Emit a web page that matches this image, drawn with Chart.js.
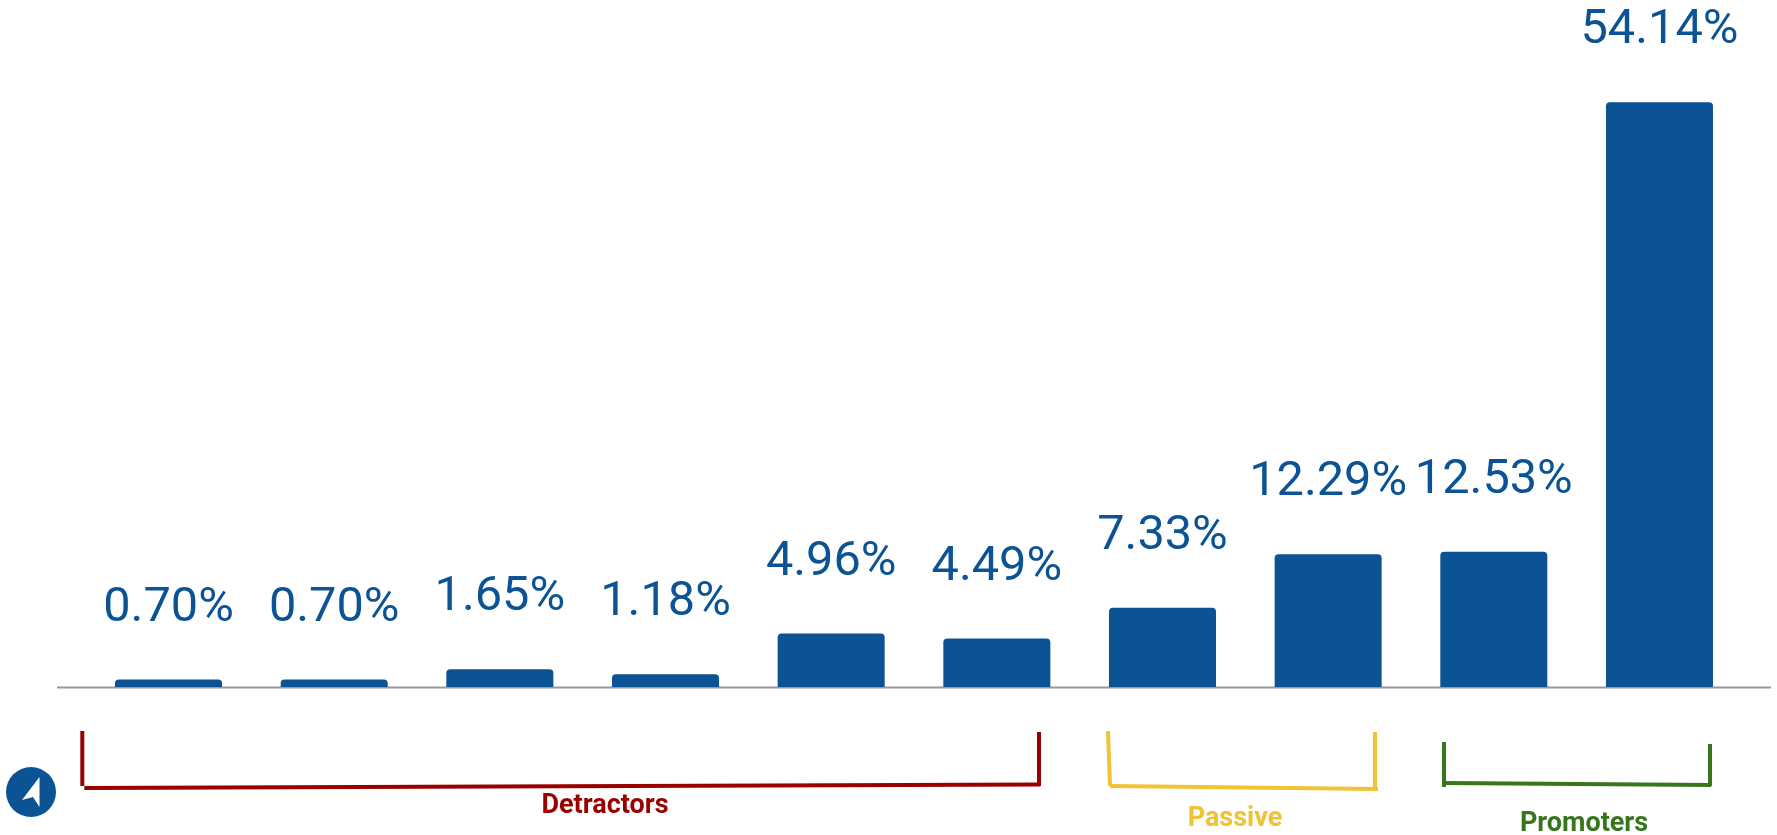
<!DOCTYPE html>
<html>
<head>
<meta charset="utf-8">
<title>NPS</title>
<script src="https://cdn.jsdelivr.net/npm/chart.js@4"></script>
<style>
body { margin: 0; background: #fff; }
canvas { display: block; }
</style>
</head>
<body>
<canvas id="nps" width="1777" height="835"></canvas>
<script>
const scores = ["1", "2", "3", "4", "5", "6", "7", "8", "9", "10"];
const shares = [0.70, 0.70, 1.65, 1.18, 4.96, 4.49, 7.33, 12.29, 12.53, 54.14];

const groupNames = ["Detractors", "Passive", "Promoters"];

const blue = "#0b5394";

// lines of the hand drawn brackets under the axis, they lean a little
function drawBrackets(ctx) {
    const brackets = [
        { color: "#990000", name: groupNames[0], nameX: 605, nameY: 806, lines: [
            [82.3, 731, 82.3, 786], [84.3, 788, 1040, 784.5], [1039, 732, 1039, 786]] },
        { color: "#f1c232", name: groupNames[1], nameX: 1235, nameY: 819, lines: [
            [1108, 731, 1110, 786], [1110, 786, 1378, 789], [1375, 732, 1375, 787]] },
        { color: "#38761d", name: groupNames[2], nameX: 1584, nameY: 824, lines: [
            [1444, 742, 1444, 787], [1445, 783, 1711, 785], [1710, 744, 1710, 786]] }
    ];
    brackets.forEach(b => {
        ctx.strokeStyle = b.color;
        ctx.lineWidth = 4;
        b.lines.forEach(l => {
            ctx.beginPath();
            ctx.moveTo(l[0], l[1]);
            ctx.lineTo(l[2], l[3]);
            ctx.stroke();
        });
        ctx.fillStyle = b.color;
        ctx.font = "bold 27px Roboto";
        ctx.textAlign = "center";
        ctx.textBaseline = "middle";
        ctx.fillText(b.name, b.nameX, b.nameY);
    });
}

function drawIcon(ctx) {
    ctx.fillStyle = blue;
    ctx.beginPath();
    ctx.arc(31, 792, 25, 0, 2 * Math.PI);
    ctx.fill();
    ctx.fillStyle = "#fff";
    ctx.beginPath();
    ctx.moveTo(39.5, 777);
    ctx.lineTo(22, 800);
    ctx.lineTo(33, 797);
    ctx.lineTo(39.5, 807);
    ctx.closePath();
    ctx.fill();
}

const axisLine = {
    id: "axisLine",
    beforeDatasetsDraw(chart) {
        const ctx = chart.ctx;
        const y = chart.scales.y.getPixelForValue(0);
        ctx.save();
        ctx.strokeStyle = "#999999";
        ctx.lineWidth = 2;
        ctx.beginPath();
        ctx.moveTo(57, y + 0.5);
        ctx.lineTo(1771, y + 0.5);
        ctx.stroke();
        ctx.restore();
    }
};

const extras = {
    id: "extras",
    afterDatasetsDraw(chart) {
        const ctx = chart.ctx;
        ctx.save();
        // percentage above each bar
        ctx.fillStyle = blue;
        ctx.font = "48.7px Roboto";
        ctx.textAlign = "center";
        ctx.textBaseline = "middle";
        chart.getDatasetMeta(0).data.forEach((bar, i) => {
            ctx.fillText(shares[i].toFixed(2) + "%", bar.x, bar.y - 71);
        });
        drawBrackets(ctx);
        drawIcon(ctx);
        ctx.restore();
    }
};

new Chart(document.getElementById("nps"), {
    type: 'bar',
    data: {
        labels: scores,
        datasets: [{
            data: shares,
            backgroundColor: blue,
            borderRadius: 4,
            categoryPercentage: 1,
            barPercentage: 0.646
        }]
    },
    options: {
        responsive: false,
        animation: false,
        layout: {
            padding: { left: 85.7, right: 34.7, top: 0, bottom: 148 }
        },
        plugins: {
            legend: { display: false },
            title: { display: false },
            tooltip: { enabled: false }
        },
        scales: {
            x: { display: false },
            y: { display: false, min: 0, max: 63.6 }
        }
    },
    plugins: [axisLine, extras]
});
</script>
</body>
</html>
